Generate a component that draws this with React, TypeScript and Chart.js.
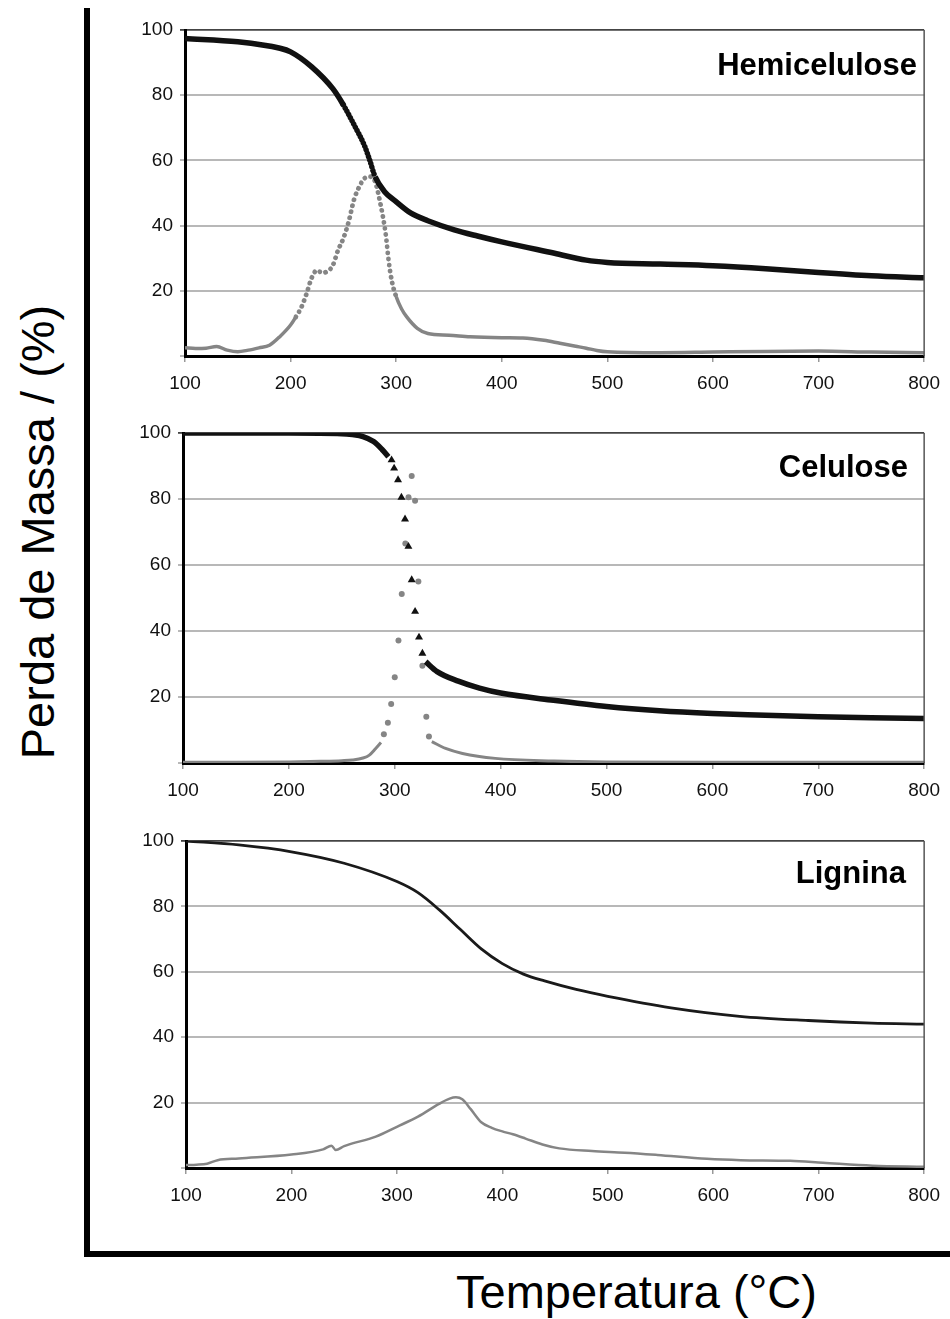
import React, { useEffect, useRef } from "react";
import { Chart, registerables } from "chart.js";
Chart.register(...registerables);

// ---------- axis ticks ----------
const xTicks = [100, 200, 300, 400, 500, 600, 700, 800];
const yTicks = [0, 20, 40, 60, 80, 100];

// ---------- Hemicelulose ----------
const hemiTgT = [100, 150, 190, 200, 220, 240, 250, 260, 270, 275, 280, 289, 299, 314, 330, 355, 377, 400, 450, 480, 500, 550, 600, 650, 700, 750, 800];
const hemiTg = [97.4, 96.4, 94.4, 93.3, 88.7, 82.0, 77.0, 71.0, 64.5, 60.0, 55.0, 50.4, 47.6, 43.8, 41.5, 38.7, 36.8, 35.0, 31.5, 29.4, 28.7, 28.2, 27.7, 26.8, 25.6, 24.6, 24.0];
const hemiTgDotted = [245, 285];
const hemiDtgT = [100, 110, 120, 130, 140, 150, 160, 170, 180, 190, 200, 205, 210, 215, 220, 225, 230, 235, 240, 245, 250, 255, 260, 265, 270, 275, 280, 285, 290, 293, 296, 300, 305, 310, 320, 330, 350, 370, 400, 420, 440, 455, 470, 480, 490, 500, 550, 600, 650, 700, 750, 800];
const hemiDtg = [2.5, 2.3, 2.4, 2.9, 1.8, 1.3, 1.8, 2.5, 3.3, 6.0, 9.5, 12, 14.8, 19, 24, 26.3, 25.5, 26, 27.8, 32.5, 36.1, 41.2, 47.9, 51.9, 54.5, 55, 53.5, 46.8, 37.6, 28.9, 22.8, 18.2, 14.5, 12, 8.5, 6.9, 6.4, 5.9, 5.6, 5.5, 4.8, 3.9, 3.0, 2.4, 1.7, 1.3, 1.0, 1.2, 1.4, 1.5, 1.2, 1.0];
const hemiDtgDotted = [205, 300];

// ---------- Celulose ----------
const celTgT = [100, 200, 250, 260, 270, 280, 288, 294];
const celTg = [100, 100, 99.8, 99.5, 98.9, 97.4, 95, 92.8];
const celTgStepT = [297, 299.4, 303.1, 306.3, 309.7, 312.9, 316, 319.2, 322.9, 326.1];
const celTgStep = [91.8, 89.3, 85.8, 80.5, 73.9, 65.6, 55.5, 45.9, 38.1, 33.2];
const celTgT2 = [329.2, 340, 360, 380, 400, 450, 500, 550, 600, 650, 700, 750, 800];
const celTg2 = [30.7, 27.7, 24.8, 22.7, 21.2, 19.0, 17.1, 15.8, 15.0, 14.5, 14.0, 13.7, 13.5];
const celDtgT = [100, 150, 200, 230, 250, 260, 270, 276, 282, 287];
const celDtg = [0.2, 0.2, 0.3, 0.5, 0.7, 0.9, 1.5, 2.4, 4.4, 6.2];
const celDtgStepT = [289.7, 293.5, 296.6, 300, 303.5, 306.6, 310, 313, 316, 319.2, 322.3, 326.1, 329.8, 332.3];
const celDtgStep = [8.7, 12.2, 17.9, 26, 37.1, 51.2, 66.5, 80.5, 87, 79.5, 55, 29.5, 14, 8];
const celDtgT2 = [335, 348, 364, 395, 450, 500, 600, 700, 800];
const celDtg2 = [6.5, 4.4, 2.9, 1.4, 0.6, 0.3, 0.2, 0.2, 0.2];

// ---------- Lignina ----------
const ligTgT = [100, 150, 200, 250, 300, 320, 340, 360, 380, 400, 420, 440, 470, 500, 560, 625, 690, 750, 800];
const ligTg = [100, 98.8, 96.7, 93.2, 87.6, 84.2, 79.0, 73.0, 67.0, 62.5, 59.3, 57.2, 54.6, 52.5, 49.0, 46.4, 45.1, 44.3, 44.0];
const ligDtgT = [100, 110, 120, 130, 150, 200, 230, 238, 242, 250, 280, 300, 320, 340, 350, 356, 362, 370, 380, 390, 400, 410, 422, 438, 454, 485, 516, 547, 594, 626, 673, 704, 751, 800];
const ligDtg = [0.9, 1.0, 1.3, 2.4, 2.9, 4.1, 5.7, 6.8, 5.5, 6.7, 9.6, 12.6, 15.7, 19.6, 21.2, 21.6, 21.0, 18.0, 14.0, 12.3, 11.2, 10.3, 9.0, 7.2, 6.0, 5.2, 4.7, 4.0, 2.8, 2.4, 2.2, 1.6, 0.7, 0.4];

const titles = ["Hemicelulose", "Celulose", "Lignina"];
const yTitle = "Perda de Massa / (%)";
const xTitle = "Temperatura (°C)";

// ---------- styling / layout ----------
const FONT = '"Liberation Sans", Arial, Helvetica, sans-serif';
const BLACK = "#111";
const GREY = "#858585";
const CANVAS_LEFT = 100;
const PAD_TOP = 20;
const X_AXIS_H = 50;

const pts = (xs: number[], ys: number[]) => xs.map((x, i) => ({ x, y: ys[i] }));

const inRange = (r: number[]) => (ctx: any) =>
  ctx.p0.parsed.x >= r[0] && ctx.p1.parsed.x <= r[1];

function lineDs(xs: number[], ys: number[], color: string, width: number, dotted?: number[], gap?: number, dotWidth?: number) {
  const ds: any = {
    data: pts(xs, ys),
    borderColor: color,
    borderWidth: width,
    pointRadius: 0,
    cubicInterpolationMode: "monotone",
    fill: false,
    borderCapStyle: "butt",
  };
  if (dotted) {
    const f = inRange(dotted);
    ds.segment = {
      borderDash: (ctx: any) => (f(ctx) ? [0.1, gap || 5] : []),
      borderCapStyle: (ctx: any) => (f(ctx) ? "round" : "butt"),
      borderWidth: (ctx: any) => (f(ctx) ? dotWidth || width : width),
    };
  }
  return ds;
}

function markerDs(xs: number[], ys: number[], color: string, style: string, radius: number) {
  return {
    data: pts(xs, ys),
    showLine: false,
    pointStyle: style,
    pointRadius: radius,
    pointBackgroundColor: color,
    pointBorderColor: color,
    pointBorderWidth: 0,
  };
}

const panels = [
  {
    title: titles[0],
    area: { l: 185, t: 30, r: 931, b: 356 },
    titleRight: 917,
    titleTop: 49,
    datasets: () => [
      lineDs(hemiTgT, hemiTg, BLACK, 5.5, hemiTgDotted, 3.5, 5.5),
      lineDs(hemiDtgT, hemiDtg, GREY, 3.5, hemiDtgDotted, 6, 4.8),
    ],
  },
  {
    title: titles[1],
    area: { l: 183, t: 433, r: 927, b: 763 },
    titleRight: 908,
    titleTop: 451,
    datasets: () => [
      lineDs(celTgT, celTg, BLACK, 5.5),
      markerDs(celTgStepT, celTgStep, BLACK, "triangle", 4.6),
      lineDs(celTgT2, celTg2, BLACK, 5.5),
      lineDs(celDtgT, celDtg, GREY, 3),
      markerDs(celDtgStepT, celDtgStep, GREY, "circle", 3),
      lineDs(celDtgT2, celDtg2, GREY, 3),
    ],
  },
  {
    title: titles[2],
    area: { l: 186, t: 841, r: 932, b: 1168 },
    titleRight: 906,
    titleTop: 857,
    datasets: () => [
      lineDs(ligTgT, ligTg, "#1a1a1a", 2.8),
      lineDs(ligDtgT, ligDtg, GREY, 2.5),
    ],
  },
];

const framePlugin = {
  id: "frameRight",
  afterDatasetsDraw(chart: any) {
    const { ctx, chartArea } = chart;
    ctx.save();
    ctx.strokeStyle = "#555";
    ctx.lineWidth = 1.5;
    ctx.beginPath();
    ctx.moveTo(chartArea.right, chartArea.top);
    ctx.lineTo(chartArea.right, chartArea.bottom);
    ctx.stroke();
    ctx.restore();
  },
};

function Panel({ p }: { p: (typeof panels)[number] }) {
  const ref = useRef<HTMLCanvasElement | null>(null);
  const { area } = p;
  const width = 950 - CANVAS_LEFT;
  const height = area.b - area.t + PAD_TOP + X_AXIS_H;

  useEffect(() => {
    if (!ref.current) return;
    const chart = new Chart(ref.current, {
      type: "line",
      data: { datasets: p.datasets() },
      plugins: [framePlugin],
      options: {
        animation: false,
        responsive: false,
        maintainAspectRatio: false,
        devicePixelRatio: 1,
        events: [],
        layout: { padding: { left: 0, top: PAD_TOP, right: 950 - area.r, bottom: 0 } },
        plugins: { legend: { display: false }, tooltip: { enabled: false }, title: { display: false } },
        scales: {
          x: {
            type: "linear",
            min: 100,
            max: 800,
            afterBuildTicks: (axis: any) => {
              axis.ticks = xTicks.map((v) => ({ value: v }));
            },
            afterFit: (s: any) => {
              s.height = X_AXIS_H;
            },
            grid: { drawOnChartArea: false, drawTicks: true, tickLength: 6, color: "#999", lineWidth: 1.5 },
            border: { display: true, color: "#000", width: 3 },
            ticks: {
              color: BLACK,
              font: { family: FONT, size: 19 },
              padding: 10,
              maxRotation: 0,
              autoSkip: false,
            },
          },
          y: {
            type: "linear",
            min: 0,
            max: 100,
            afterBuildTicks: (axis: any) => {
              axis.ticks = yTicks.map((v) => ({ value: v }));
            },
            afterFit: (s: any) => {
              s.width = area.l - CANVAS_LEFT;
            },
            grid: {
              color: (ctx: any) => (ctx.tick && ctx.tick.value === 100 ? "#444" : "#b8b8b8"),
              lineWidth: (ctx: any) => (ctx.tick && ctx.tick.value === 100 ? 1.8 : 2),
              drawTicks: true,
              tickLength: 5,
            },
            border: { display: true, color: "#000", width: 3 },
            ticks: {
              color: BLACK,
              font: { family: FONT, size: 19 },
              padding: 7,
              callback: (v: any) => (v === 0 ? "" : String(v)),
            },
          },
        },
      } as any,
    });
    return () => chart.destroy();
  }, []);

  return (
    <>
      <canvas
        ref={ref}
        width={width}
        height={height}
        style={{ position: "absolute", left: CANVAS_LEFT, top: area.t - PAD_TOP, width, height }}
      />
      <div
        style={{
          position: "absolute",
          right: 950 - p.titleRight,
          top: p.titleTop,
          fontFamily: FONT,
          fontWeight: "bold",
          fontSize: 31,
          lineHeight: 1,
          color: "#000",
          whiteSpace: "nowrap",
        }}
      >
        {p.title}
      </div>
    </>
  );
}

export default function App() {
  return (
    <div
      style={{
        position: "absolute",
        left: 0,
        top: 0,
        width: 950,
        height: 1319,
        background: "#fff",
        overflow: "hidden",
      }}
    >
      {panels.map((p, i) => (
        <Panel key={i} p={p} />
      ))}
      {/* big L-shaped frame */}
      <div style={{ position: "absolute", left: 84, top: 8, width: 6, height: 1249, background: "#000" }} />
      <div style={{ position: "absolute", left: 84, top: 1251, width: 866, height: 6, background: "#000" }} />
      {/* axis titles */}
      <div
        style={{
          position: "absolute",
          left: 37,
          top: 532,
          transform: "translate(-50%, -50%) rotate(-90deg)",
          fontFamily: FONT,
          fontSize: 47,
          lineHeight: 1,
          whiteSpace: "nowrap",
          color: "#000",
        }}
      >
        {yTitle}
      </div>
      <div
        style={{
          position: "absolute",
          left: 456,
          top: 1268,
          fontFamily: FONT,
          fontSize: 47,
          lineHeight: 1,
          whiteSpace: "nowrap",
          color: "#000",
        }}
      >
        {xTitle}
      </div>
    </div>
  );
}
